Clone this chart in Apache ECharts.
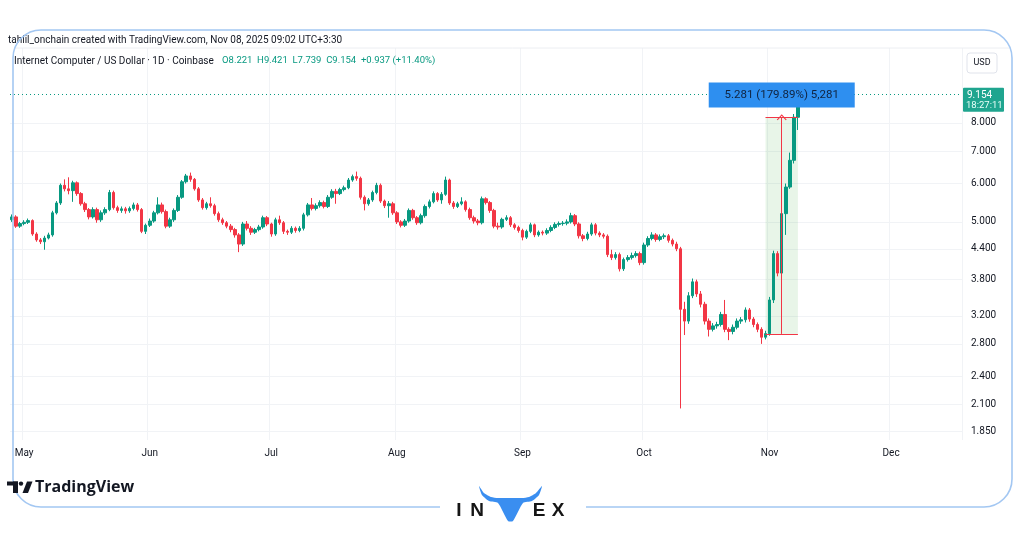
<!DOCTYPE html>
<html><head><meta charset="utf-8">
<script src="https://cdn.jsdelivr.net/npm/echarts@6/dist/echarts.min.js"></script>
<style>html,body{margin:0;padding:0;background:#fff}#c{width:1024px;height:538px}</style>
</head><body><div id="c"></div>
<script>
// ---------- data ----------
const startDate = '2025-04-28';
const endDate = '2025-12-18';
const openP = [5.05,5.12,4.90,4.96,4.99,5.03,4.72,4.59,4.55,4.63,
 4.70,5.22,5.47,5.95,5.85,5.80,6.02,5.72,5.45,5.30,
 5.12,5.30,5.05,5.22,5.30,5.75,5.35,5.28,5.32,5.27,
 5.33,5.42,5.30,4.78,4.92,5.02,5.22,5.42,5.25,4.90,
 5.05,5.28,5.62,6.05,6.22,6.12,5.85,5.55,5.35,5.45,
 5.40,5.20,5.05,4.98,4.90,4.82,4.70,4.50,4.95,4.85,
 4.76,4.82,4.88,5.10,4.95,4.72,5.05,4.98,4.78,4.76,
 4.85,4.80,4.85,5.17,5.42,5.33,5.40,5.48,5.38,5.62,
 5.78,5.72,5.83,5.88,6.10,6.20,6.15,5.62,5.45,5.55,
 5.75,5.95,5.52,5.40,5.45,5.22,5.00,4.92,5.02,5.28,
 5.10,4.98,5.15,5.38,5.50,5.72,5.55,5.70,6.10,5.47,
 5.38,5.45,5.50,5.30,5.10,5.02,4.98,5.58,5.48,5.28,
 4.90,4.88,5.06,5.10,4.93,4.87,4.80,4.65,4.78,4.93,
 4.70,4.76,4.74,4.80,4.87,4.94,4.96,4.97,5.00,5.15,
 4.95,4.68,4.62,4.72,4.93,4.74,4.70,4.67,4.28,4.22,
 4.28,4.00,4.18,4.22,4.26,4.30,4.12,4.48,4.62,4.70,
 4.60,4.66,4.68,4.58,4.50,4.40,3.30,3.12,3.52,3.76,
 3.55,3.38,3.12,3.00,3.05,3.07,3.22,3.00,2.97,3.03,
 3.12,3.14,3.29,3.15,3.07,3.00,2.89,2.94,3.45,4.30,
 3.92,5.20,5.90,6.70,8.221];
const closeP = [5.12,4.90,4.96,4.99,5.03,4.72,4.59,4.55,4.63,4.70,
 5.22,5.47,5.95,5.85,5.80,6.02,5.72,5.45,5.30,5.12,
 5.30,5.05,5.22,5.30,5.75,5.35,5.28,5.32,5.27,5.33,
 5.42,5.30,4.78,4.92,5.02,5.22,5.42,5.25,4.90,5.05,
 5.28,5.62,6.05,6.22,6.12,5.85,5.55,5.35,5.45,5.40,
 5.20,5.05,4.98,4.90,4.82,4.70,4.50,4.95,4.85,4.76,
 4.82,4.88,5.10,4.95,4.72,5.05,4.98,4.78,4.76,4.85,
 4.80,4.85,5.17,5.42,5.33,5.40,5.48,5.38,5.62,5.78,
 5.72,5.83,5.88,6.10,6.20,6.15,5.62,5.45,5.55,5.75,
 5.95,5.52,5.40,5.45,5.22,5.00,4.92,5.02,5.28,5.10,
 4.98,5.15,5.38,5.50,5.72,5.55,5.70,6.10,5.47,5.38,
 5.45,5.50,5.30,5.10,5.02,4.98,5.58,5.48,5.28,4.90,
 4.88,5.06,5.10,4.93,4.87,4.80,4.65,4.78,4.93,4.70,
 4.76,4.74,4.80,4.87,4.94,4.96,4.97,5.00,5.15,4.95,
 4.68,4.62,4.72,4.93,4.74,4.70,4.67,4.28,4.22,4.28,
 4.00,4.18,4.22,4.26,4.30,4.12,4.48,4.62,4.70,4.60,
 4.66,4.68,4.58,4.50,4.40,3.30,3.12,3.52,3.76,3.55,
 3.38,3.12,3.00,3.05,3.07,3.22,3.00,2.97,3.03,3.12,
 3.14,3.29,3.15,3.07,3.00,2.89,2.94,3.45,4.30,3.92,
 5.20,5.90,6.70,8.221,9.154];
const lowP = [5.00,4.86,4.86,4.92,4.95,4.68,4.55,4.50,4.38,4.60,
 4.66,5.18,5.42,5.78,5.70,5.50,5.66,5.40,5.24,5.06,
 5.08,4.98,5.00,5.17,5.26,5.30,5.22,5.22,5.20,5.22,
 5.28,5.25,4.74,4.72,4.88,4.98,5.18,5.20,4.85,4.86,
 5.00,5.24,5.58,6.00,6.05,5.80,5.50,5.30,5.30,5.35,
 5.15,5.00,4.93,4.85,4.76,4.64,4.33,4.46,4.80,4.70,
 4.72,4.78,4.84,4.90,4.66,4.68,4.93,4.72,4.70,4.72,
 4.75,4.76,4.80,5.13,5.28,5.28,5.35,5.33,5.34,5.58,
 5.45,5.68,5.78,5.84,6.05,6.08,5.56,5.28,5.40,5.50,
 5.70,5.47,5.34,5.10,5.17,4.95,4.87,4.88,4.98,5.05,
 4.93,4.94,5.10,5.33,5.46,5.50,5.45,5.66,5.42,5.32,
 5.34,5.41,5.25,5.05,4.96,4.92,4.94,5.43,5.22,4.85,
 4.82,4.84,5.02,4.88,4.82,4.75,4.58,4.61,4.74,4.65,
 4.66,4.69,4.70,4.76,4.83,4.89,4.91,4.92,4.96,4.90,
 4.62,4.56,4.58,4.68,4.69,4.65,4.62,4.23,4.17,4.18,
 3.95,3.96,4.14,4.18,4.22,4.07,4.08,4.44,4.58,4.55,
 4.56,4.61,4.53,4.45,4.35,2.06,2.92,3.08,3.48,3.50,
 3.33,3.07,2.90,2.97,3.01,3.04,2.96,2.85,2.93,3.00,
 3.08,3.10,3.11,3.03,2.96,2.80,2.86,2.91,3.40,3.86,
 3.85,4.70,5.85,6.60,7.739];
const highP = [5.18,5.16,5.00,5.04,5.08,5.06,4.76,4.63,4.68,4.75,
 5.27,5.52,6.00,6.12,6.18,6.08,6.06,5.76,5.50,5.34,
 5.36,5.35,5.28,5.36,5.82,5.80,5.40,5.38,5.37,5.38,
 5.48,5.47,5.34,4.96,5.08,5.27,5.62,5.48,5.30,5.10,
 5.33,5.68,6.10,6.28,6.32,6.16,5.90,5.60,5.50,5.62,
 5.45,5.25,5.10,5.02,4.95,4.86,4.74,5.00,5.02,4.90,
 4.86,4.93,5.15,5.14,4.98,5.10,5.15,5.02,4.82,4.90,
 4.89,4.90,5.22,5.47,5.60,5.46,5.54,5.53,5.68,5.84,
 5.85,5.88,5.94,6.16,6.26,6.35,6.20,5.67,5.60,5.80,
 6.02,6.00,5.56,5.52,5.50,5.26,5.04,5.07,5.33,5.32,
 5.14,5.20,5.43,5.56,5.78,5.76,5.76,6.20,6.14,5.52,
 5.50,5.62,5.54,5.35,5.15,5.07,5.64,5.62,5.52,5.32,
 4.98,5.10,5.16,5.14,4.97,4.91,4.84,4.82,4.98,4.96,
 4.80,4.80,4.85,4.92,4.99,5.01,5.02,5.06,5.22,5.19,
 4.99,4.72,4.77,4.98,4.97,4.78,4.74,4.71,4.38,4.33,
 4.32,4.22,4.27,4.32,4.35,4.34,4.53,4.67,4.76,4.74,
 4.71,4.73,4.72,4.62,4.55,4.44,3.42,3.58,3.82,3.80,
 3.60,3.42,3.16,3.09,3.11,3.26,3.45,3.03,3.07,3.16,
 3.18,3.33,3.32,3.18,3.10,3.03,2.98,3.50,4.36,4.35,
 5.30,6.00,6.95,8.35,9.421];
const yTicks = [1.85, 2.1, 2.4, 2.8, 3.2, 3.8, 4.4, 5, 6, 7, 8];
const monthNames = ['Jan','Feb','Mar','Apr','May','Jun','Jul','Aug','Sep','Oct','Nov','Dec'];
const lastPrice = 9.154;
const lastPriceTime = '18:27:11';
const measureStart = ['2025-10-31', 2.936];
const measureEnd = ['2025-11-08', 8.217];
const measureMidDate = '2025-11-04';
const measureLabel = '5.281 (179.89%) 5,281';
const headerText = 'tahlil_onchain created with TradingView.com, Nov 08, 2025 09:02 UTC+3:30';
const symbolText = 'Internet Computer / US Dollar · 1D · Coinbase';
const ohlcText = 'O8.221  H9.421  L7.739  C9.154  +0.937 (+11.40%)';

// ---------- build ----------
function buildDates(a, b) {
  const out = [];
  let t = Date.parse(a + 'T00:00:00Z');
  const e = Date.parse(b + 'T00:00:00Z');
  while (t <= e) { out.push(new Date(t).toISOString().slice(0, 10)); t += 86400000; }
  return out;
}
const dates = buildDates(startDate, endDate);
const candles = closeP.map((c, i) => [openP[i], c, lowP[i], highP[i]]);

const UP = '#089981', DOWN = '#f23645';
const FONT = 'Roboto, "Open Sans", sans-serif';
const isMonthStart = (i, v) => v.slice(8) === '01';

const chart = echarts.init(document.getElementById('c'), null, { renderer: 'canvas' });
const redLine = { color: DOWN, width: 1, type: 'solid' };
const option = {
  animation: false,
  backgroundColor: '#ffffff',
  grid: { left: 10, right: 62, top: 48, bottom: 98 },
  xAxis: {
    type: 'category', data: dates, boundaryGap: true,
    axisLine: { show: false }, axisTick: { show: false },
    axisLabel: { interval: isMonthStart, formatter: v => monthNames[+v.slice(5, 7) - 1],
      color: '#131722', fontSize: 10, fontFamily: FONT, margin: 8 },
    splitLine: { show: true, interval: isMonthStart, lineStyle: { color: '#f1f3f6', width: 1 } }
  },
  yAxis: {
    type: 'log', position: 'right', min: 1.7731, max: 11.426,
    axisLine: { show: false },
    axisTick: { show: false, customValues: yTicks },
    axisLabel: { customValues: yTicks, formatter: v => Number(v).toFixed(3), color: '#131722',
      fontSize: 10, fontFamily: FONT, margin: 9, align: 'left', padding: [2, 0, 0, 0] },
    splitLine: { show: true, lineStyle: { color: '#f1f3f6', width: 1 } }
  },
  series: [
    {
      type: 'line', data: [], z: 1,
      markPoint: {
        silent: true,
        data: [{ coord: [measureMidDate, 9.14], symbol: 'rect', symbolSize: [146, 25],
          itemStyle: { color: '#2e8ff0' },
          label: { show: true, position: 'inside', formatter: measureLabel, color: '#10233f',
            fontSize: 11.5, fontFamily: FONT } }]
      }
    },
    {
      type: 'candlestick', data: candles, barWidth: 3, z: 3,
      itemStyle: { color: UP, color0: DOWN, borderColor: UP, borderColor0: DOWN, borderWidth: 1 },
      markArea: {
        silent: true,
        itemStyle: { color: 'rgba(76,175,80,0.13)' },
        data: [[{ coord: measureStart }, { coord: measureEnd }]]
      },
      markLine: {
        silent: true, symbol: ['none', 'none'], label: { show: false },
        data: [
          { yAxis: lastPrice, lineStyle: { color: UP, width: 1, type: [1, 3] } },
          [{ coord: [measureStart[0], measureEnd[1]], lineStyle: redLine }, { coord: measureEnd }],
          [{ coord: measureStart, lineStyle: redLine }, { coord: [measureEnd[0], measureStart[1]] }],
          [{ coord: [measureMidDate, measureStart[1]], lineStyle: redLine, symbol: 'none' },
           { coord: [measureMidDate, measureEnd[1]], symbol: 'path://M0,8 L5,0 L10,8 L9,9 L5,2 L1,9 Z', symbolSize: [10, 6] }]
        ]
      }
    }
  ],
  graphic: []
};
chart.setOption(option);

// overlay decorations
const py = chart.convertToPixel({ yAxisIndex: 0 }, lastPrice);
const LOGO = '600 19px "Liberation Sans", Arial, sans-serif';
const g = [
  { type: 'line', shape: { x1: 14, y1: 48, x2: 1011, y2: 48 }, style: { stroke: '#eceef2', lineWidth: 1 }, z: 5 },
  { type: 'text', x: 8, y: 40, style: { text: headerText, fill: '#131722', font: '10px ' + FONT, textVerticalAlign: 'middle' }, z: 10 },
  { type: 'text', x: 14, y: 61, style: { text: symbolText, fill: '#131722', font: '10px ' + FONT, textVerticalAlign: 'middle' }, z: 10 },
  { type: 'text', x: 222, y: 61, style: { text: ohlcText, fill: UP, font: '9.5px ' + FONT, textVerticalAlign: 'middle' }, z: 10 },
  { type: 'rect', shape: { x: 967, y: 53, width: 30, height: 20, r: 3 }, style: { fill: '#fff', stroke: '#e0e3eb', lineWidth: 1 }, z: 10 },
  { type: 'text', x: 982, y: 63, style: { text: 'USD', fill: '#131722', font: '9px ' + FONT, textAlign: 'center', textVerticalAlign: 'middle' }, z: 11 },
  { type: 'rect', shape: { x: 963, y: py - 7, width: 41, height: 24, r: 1 }, style: { fill: '#1fa58f' }, z: 10 },
  { type: 'text', x: 967, y: py + 0.5, style: { text: lastPrice.toFixed(3), fill: '#fff', font: '10px ' + FONT, textVerticalAlign: 'middle' }, z: 11 },
  { type: 'text', x: 966, y: py + 11, style: { text: lastPriceTime, fill: '#e8fff9', font: '9.5px ' + FONT, textVerticalAlign: 'middle' }, z: 11 },
  // frame
  { type: 'rect', shape: { x: 13, y: 30, width: 999, height: 477, r: 28 }, style: { fill: 'none', stroke: '#a3c7f2', lineWidth: 1.6 }, z: 20 },
  { type: 'rect', shape: { x: 440, y: 498, width: 146, height: 20 }, style: { fill: '#fff' }, z: 21 },
  // TradingView logo
  { type: 'rect', shape: { x: 7, y: 481.5, width: 11, height: 4 }, style: { fill: '#131722' }, z: 22 },
  { type: 'rect', shape: { x: 13, y: 481.5, width: 5, height: 11.5 }, style: { fill: '#131722' }, z: 22 },
  { type: 'circle', shape: { cx: 21, cy: 483.6, r: 2.2 }, style: { fill: '#131722' }, z: 22 },
  { type: 'polygon', shape: { points: [[22.5, 493], [27, 481.5], [32.5, 481.5], [28, 493]] }, style: { fill: '#131722' }, z: 22 },
  { type: 'text', x: 35, y: 487.5, style: { text: 'TradingView', fill: '#131722', font: 'bold 16px "Open Sans", sans-serif', textVerticalAlign: 'middle' }, z: 22 },
  // INVEX logo
  { type: 'text', x: 459, y: 511, style: { text: 'I', fill: '#151515', font: LOGO, textAlign: 'center', textVerticalAlign: 'middle' }, z: 22 },
  { type: 'text', x: 477, y: 511, style: { text: 'N', fill: '#151515', font: LOGO, textAlign: 'center', textVerticalAlign: 'middle' }, z: 22 },
  { type: 'text', x: 539, y: 511, style: { text: 'E', fill: '#151515', font: LOGO, textAlign: 'center', textVerticalAlign: 'middle' }, z: 22 },
  { type: 'text', x: 558, y: 511, style: { text: 'X', fill: '#151515', font: LOGO, textAlign: 'center', textVerticalAlign: 'middle' }, z: 22 },
  { type: 'polygon', shape: { smooth: 0.2, points: [[479, 486], [484, 493], [491, 497], [498, 498], [522, 498], [529, 497], [536, 493], [542, 486], [539, 495], [532, 501], [523, 503], [513, 521], [508, 521], [498, 503], [489, 501], [482, 495]] },
    style: { fill: '#3a8ef0' }, z: 22 }
];
chart.setOption({ graphic: g });
</script></body></html>
